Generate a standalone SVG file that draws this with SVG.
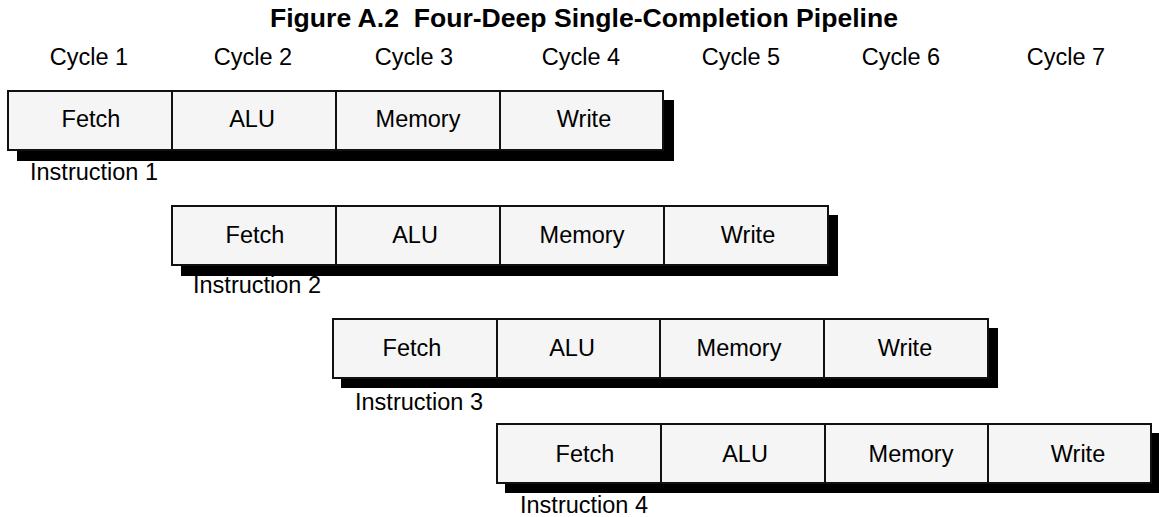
<svg xmlns="http://www.w3.org/2000/svg" width="1159" height="517" viewBox="0 0 1159 517">
<style>
text{font-family:"Liberation Sans",Arial,sans-serif;fill:#000}
.t{font-size:25.5px;font-weight:bold}
.c{font-size:23.5px;text-anchor:middle}
.l{font-size:23.5px}
.shadow{fill:#000}
.cell{fill:#f5f5f5;stroke:#111;stroke-width:2}
</style>
<rect width="1159" height="517" fill="#fff"/>
<text class="t" x="270" y="27" xml:space="preserve" textLength="628" lengthAdjust="spacingAndGlyphs">Figure A.2  Four-Deep Single-Completion Pipeline</text>
<g id="cycles">
<text class="c" x="89" y="65">Cycle 1</text>
<text class="c" x="253" y="65">Cycle 2</text>
<text class="c" x="414" y="65">Cycle 3</text>
<text class="c" x="581" y="65">Cycle 4</text>
<text class="c" x="741" y="65">Cycle 5</text>
<text class="c" x="901" y="65">Cycle 6</text>
<text class="c" x="1066" y="65">Cycle 7</text>
</g>
<g id="instr1">
<rect class="shadow" x="17" y="100" width="657" height="61"/>
<rect class="cell" x="8" y="91" width="164" height="59"/>
<rect class="cell" x="172" y="91" width="164" height="59"/>
<rect class="cell" x="336" y="91" width="164" height="59"/>
<rect class="cell" x="500" y="91" width="163" height="59"/>
<text class="c" x="91" y="127">Fetch</text>
<text class="c" x="252" y="127">ALU</text>
<text class="c" x="418" y="127">Memory</text>
<text class="c" x="584" y="127">Write</text>
<text class="l" x="30" y="180">Instruction 1</text>
</g>
<g id="instr2">
<rect class="shadow" x="181" y="215" width="657" height="61"/>
<rect class="cell" x="172" y="206" width="164" height="59"/>
<rect class="cell" x="336" y="206" width="164" height="59"/>
<rect class="cell" x="500" y="206" width="164" height="59"/>
<rect class="cell" x="664" y="206" width="164" height="59"/>
<text class="c" x="255" y="243">Fetch</text>
<text class="c" x="415" y="243">ALU</text>
<text class="c" x="582" y="243">Memory</text>
<text class="c" x="748" y="243">Write</text>
<text class="l" x="193" y="293">Instruction 2</text>
</g>
<g id="instr3">
<rect class="shadow" x="341" y="328" width="657" height="60"/>
<rect class="cell" x="333" y="319" width="164" height="59"/>
<rect class="cell" x="497" y="319" width="163" height="59"/>
<rect class="cell" x="660" y="319" width="164" height="59"/>
<rect class="cell" x="824" y="319" width="164" height="59"/>
<text class="c" x="412" y="356">Fetch</text>
<text class="c" x="572" y="356">ALU</text>
<text class="c" x="739" y="356">Memory</text>
<text class="c" x="905" y="356">Write</text>
<text class="l" x="355" y="410">Instruction 3</text>
</g>
<g id="instr4">
<rect class="shadow" x="505" y="433" width="654" height="60"/>
<rect class="cell" x="497" y="424" width="164" height="59"/>
<rect class="cell" x="661" y="424" width="164" height="59"/>
<rect class="cell" x="825" y="424" width="163" height="59"/>
<rect class="cell" x="988" y="424" width="163" height="59"/>
<text class="c" x="585" y="462">Fetch</text>
<text class="c" x="745" y="462">ALU</text>
<text class="c" x="911" y="462">Memory</text>
<text class="c" x="1078" y="462">Write</text>
<text class="l" x="520" y="513">Instruction 4</text>
</g>
<g id="connectors"/>
</svg>
